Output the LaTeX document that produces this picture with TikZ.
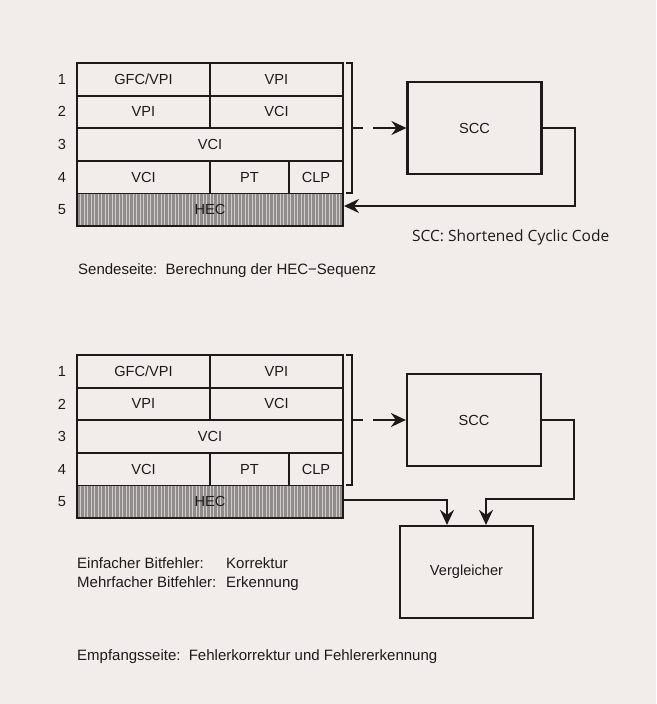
\documentclass[tikz,border=0pt]{standalone}
\usepackage{fontspec}
\setmainfont{Liberation Sans}
\newfontfamily\frut{Open Sans}
\usetikzlibrary{arrows.meta,calc}
\definecolor{paper}{RGB}{242,237,235}
\definecolor{ink}{RGB}{30,26,26}
\definecolor{hatchbg}{RGB}{210,205,205}
\definecolor{hatchfg}{RGB}{145,140,140}
\tikzset{
  cell/.style={draw=ink,line width=1.8pt,inner sep=0pt,minimum height=32.6pt,
    font=\fontsize{14.6}{16}\selectfont,text=ink},
  rownum/.style={inner sep=0pt,font=\fontsize{14.6}{16}\selectfont,text=ink},
  box/.style={draw=ink,line width=2.2pt,inner sep=0pt,minimum width=134pt,minimum height=92pt,
    font=\fontsize{14.6}{16}\selectfont,text=ink},
  txt/.style={inner sep=0pt,anchor=base west,font=\fontsize{15}{16}\selectfont,text=ink},
  arr/.style={draw=ink,line width=2pt,-{Stealth[length=15pt,width=14pt,inset=5pt]}},
  frame/.style={draw=ink,line width=2.5pt},
  brack/.style={draw=ink,line width=2pt},
}
\newcommand{\celltable}[2]{%
  \foreach \n/\yy in {1/79.3,2/111.9,3/144.5,4/177.1,5/209.7}
    \node[rownum] (#1num\n) at (62,{\yy+#2}) {\n};
  \node[cell,minimum width=133pt] (#1gfc) at (143.5,{79.3+#2}) {GFC/VPI};
  \node[cell,minimum width=133pt] (#1vpia) at (276.5,{79.3+#2}) {VPI};
  \node[cell,minimum width=133pt] (#1vpib) at (143.5,{111.9+#2}) {VPI};
  \node[cell,minimum width=133pt] (#1vcia) at (276.5,{111.9+#2}) {VCI};
  \node[cell,minimum width=266pt] (#1vcib) at (210,{144.5+#2}) {VCI};
  \node[cell,minimum width=133pt] (#1vcic) at (143.5,{177.1+#2}) {VCI};
  \node[cell,minimum width=79pt] (#1pt) at (249.5,{177.1+#2}) {PT};
  \node[cell,minimum width=54pt] (#1clp) at (316,{177.1+#2}) {CLP};
  \fill[hatchbg] (77,{193.4+#2}) rectangle (343,{226+#2});
  \foreach \xx in {78,79.4,...,342.5}
    \draw[hatchfg,line width=0.55pt] (\xx,{193.4+#2}) -- (\xx,{226+#2});
  \node[cell,minimum width=266pt] (#1hec) at (210,{209.7+#2}) {HEC};
  \draw[frame] (77,{63+#2}) rectangle (343,{226+#2});
  \draw[brack] (346,{63+#2}) -- (352,{63+#2}) -- (352,{193.4+#2}) -- (346,{193.4+#2});
  \coordinate (#1brk) at (352,{128+#2});
}
\begin{document}
\begin{tikzpicture}[x=1pt,y=-1pt]
\path[fill=paper] (0,0) rectangle (656,704);
% ---------- Sendeseite ----------
\celltable{t}{0}
\node[box] (scca) at (474.5,128) {SCC};
\draw[arr,dash pattern=on 11pt off 10pt on 200pt] (tbrk) -- (scca.west);
\coordinate (tin) at (344,206);
\draw[arr] (scca.east) -- (575,128) |- (tin);
\node[inner sep=0pt,anchor=base west,font=\frut\fontsize{15.5}{18}\selectfont,text=ink] (sccdef) at (412,241.5) {SCC: Shortened Cyclic Code};
\node[txt] (send) at (78,274) {Sendeseite:\hspace{0.55em}Berechnung der HEC−Sequenz};
% ---------- Empfangsseite ----------
\celltable{b}{292}
\node[box] (sccb) at (474,420) {SCC};
\draw[arr,dash pattern=on 11pt off 10pt on 200pt] (bbrk) -- (sccb.west);
\node[box,minimum width=133pt] (vgl) at (466.5,572) {Vergleicher};
\coordinate (bout) at (343,500);
\draw[arr] (bout) -| ($(vgl.north)+(-19.5,0)$);
\draw[arr] (sccb.east) -- (574,420) -- (574,499) -| ($(vgl.north)+(19.5,0)$);
\node[txt] (einf) at (77,568.5) {Einfacher Bitfehler:};
\node[txt] (korr) at (226,568.5) {Korrektur};
\node[txt] (mehr) at (77,587.5) {Mehrfacher Bitfehler:};
\node[txt] (erk) at (226,587.5) {Erkennung};
\node[txt] (empf) at (77,660.5) {Empfangsseite:\hspace{0.55em}Fehlerkorrektur und Fehlererkennung};
\end{tikzpicture}
\end{document}
